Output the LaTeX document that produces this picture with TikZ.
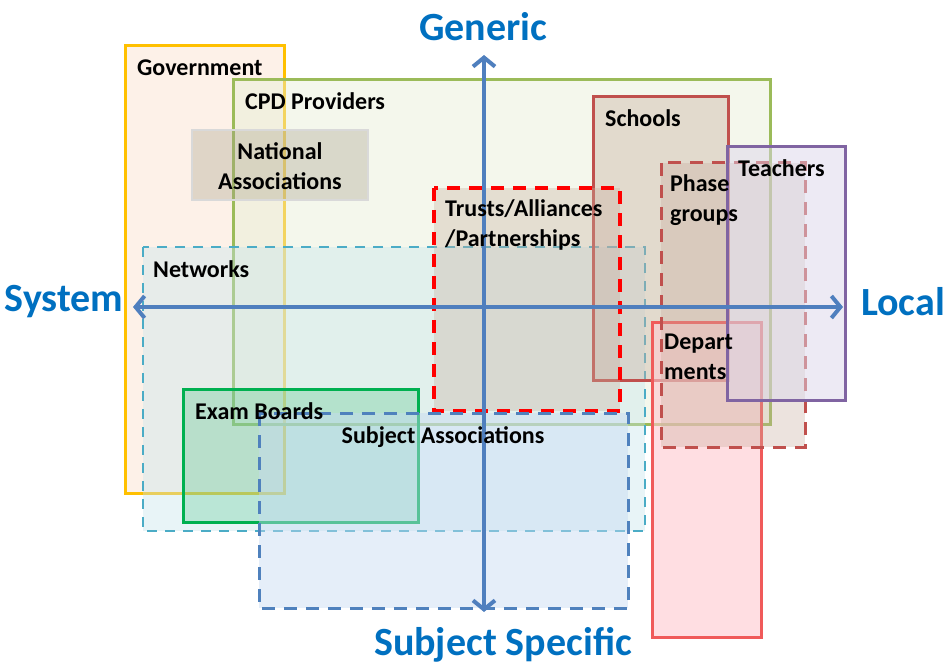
\documentclass[tikz,border=0pt]{standalone}
\usepackage{fontspec}
\setmainfont{Carlito}
\usetikzlibrary{arrows.meta}
\definecolor{axisblue}{HTML}{4F7FBE}
\definecolor{titleblue}{HTML}{0070C0}
\definecolor{govline}{HTML}{FFC000}
\definecolor{govfill}{HTML}{FBE0CC}
\definecolor{cpdline}{HTML}{9BBB59}
\definecolor{cpdfill}{HTML}{E6EED5}
\definecolor{natfill}{HTML}{A8A08A}
\definecolor{schoolline}{HTML}{C0504D}
\definecolor{schoolfill}{HTML}{C8AFA0}
\definecolor{teachline}{HTML}{8064A2}
\definecolor{teachfill}{HTML}{DCD6EA}
\definecolor{trustline}{HTML}{FF0000}
\definecolor{netline}{HTML}{4BACC6}
\definecolor{netfill}{HTML}{C6E4EC}
\definecolor{deptline}{HTML}{F05A5A}
\definecolor{deptfill}{HTML}{FFC8CE}
\definecolor{examline}{HTML}{00B050}
\definecolor{subjline}{HTML}{4F81BD}
\definecolor{subjfill}{HTML}{C5D9F1}
\tikzset{
  box/.style={line width=3pt, fill opacity=0.45},
  dashbox/.style={box, dashed, dash pattern=on 13pt off 9pt},
  boxlabel/.style={anchor=west, inner sep=0pt, align=left,
    font=\bfseries\fontsize{24}{30}\selectfont},
  axislabel/.style={inner sep=0pt, text=titleblue,
    font=\bfseries\fontsize{40}{44}\selectfont},
}
\begin{document}
\begin{tikzpicture}[x=1pt, y=-1pt, >={Straight Barb[length=9pt, width=22pt]}]
\useasboundingbox (0,0) rectangle (947,668);
% areas, back to front
\draw[box, draw=govline, fill=govfill] (125,46) rectangle (284,493);
\draw[box, draw=cpdline, fill=cpdfill] (233,80) rectangle (770,424);
\draw[box, draw=black!15, fill=natfill, fill opacity=0.35, line width=2pt] (192,130) rectangle (368,200);
\draw[dashbox, draw=netline, fill=netfill, line width=2pt, dash pattern=on 10pt off 8pt, fill opacity=0.4] (143,247) rectangle (645,531);
\draw[box, draw=schoolline, fill=schoolfill, fill opacity=0.4] (593,97) rectangle (728,380);
\draw[dashbox, draw=trustline, fill=schoolfill, fill opacity=0.35, line width=4pt] (434,188) rectangle (620,411);
\draw[box, draw=deptline, fill=deptfill, fill opacity=0.6] (652,322) rectangle (761,637);
\draw[dashbox, draw=schoolline, fill=schoolfill, fill opacity=0.35] (661,163) rectangle (805,447);
\draw[box, draw=teachline, fill=teachfill, fill opacity=0.5] (727,147) rectangle (845,400);
\draw[box, draw=examline, fill=examline, fill opacity=0.2] (183,389) rectangle (418,522);
\draw[dashbox, draw=subjline, fill=subjfill, fill opacity=0.45] (259,413) rectangle (628,608);
% axes
\coordinate (top) at (484,55);
\coordinate (bottom) at (484,612);
\coordinate (left) at (133,307);
\coordinate (right) at (843,307);
\draw[<->, axisblue, line width=4pt] (left) -- (right);
\draw[<->, axisblue, line width=4pt] (bottom) -- (top);
\node[axislabel] (generic) at (483,27) {Generic};
\node[axislabel] (system) at (64,302) {System};
\node[axislabel] (local) at (903,302) {Local};
\node[axislabel] (specific) at (503,645) {Subject Specific};
% labels
\node[boxlabel] (gov) at (137,68) {Government};
\node[boxlabel] (cpd) at (245,101) {CPD Providers};
\node[boxlabel, anchor=center, align=center] (nat) at (280,166) {National\\Associations};
\node[boxlabel] (school) at (605,118) {Schools};
\node[boxlabel] (teach) at (738,168) {Teachers};
\node[boxlabel] (phase) at (670,200) {Phase\\groups};
\node[boxlabel] (trust) at (445,225) {Trusts/Alliances\\/Partnerships};
\node[boxlabel] (net) at (153,269) {Networks};
\node[boxlabel] (dept) at (664,357) {Depart\\ments};
\node[boxlabel] (exam) at (195,411) {Exam Boards};
\node[boxlabel, anchor=center] (subj) at (443,437) {Subject Associations};
\end{tikzpicture}
\end{document}
